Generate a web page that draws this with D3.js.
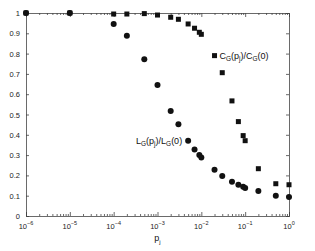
<!DOCTYPE html>
<html>
<head>
<meta charset="UTF-8">
<title>C_G and L_G vs p_j</title>
<style>
  body { margin: 0; background: #fff; }
  svg { display: block; font-family: "Liberation Sans", Arial, sans-serif; }
  .axis path, .axis line { stroke: #444; stroke-width: 0.8; }
  .lbl { font-size: 7.5px; fill: #222; }
  .note { font-size: 9px; fill: #111; }
</style>
</head>
<body>
<div id="chart"></div>
<script src="https://d3js.org/d3.v7.min.js"></script>
<script>
// data
const pj = [1e-6, 1e-5, 1e-4, 2e-4, 5e-4, 1e-3, 2e-3, 3e-3, 5e-3, 7e-3, 9e-3,
            1e-2, 2e-2, 3e-2, 5e-2, 7e-2, 9e-2, 1e-1, 2e-1, 5e-1, 1];
const cRatio = [1, 1, 0.995, 0.995, 0.997, 0.99, 0.979, 0.969, 0.946, 0.925, 0.905,
                0.895, 0.79, 0.706, 0.567, 0.465, 0.396, 0.371, 0.233, 0.159, 0.154];
const lRatio = [1, 1, 0.946, 0.888, 0.772, 0.645, 0.517, 0.452, 0.371, 0.328, 0.300,
                0.288, 0.228, 0.197, 0.169, 0.154, 0.144, 0.138, 0.123, 0.100, 0.094];
const xExps = [-6, -5, -4, -3, -2, -1, 0];
const yTicks = [0, 0.1, 0.2, 0.3, 0.4, 0.5, 0.6, 0.7, 0.8, 0.9, 1];

const width = 315, height = 251,
  margin = { top: 13, right: 26, bottom: 35, left: 26 },
  w = width - margin.left - margin.right,
  h = height - margin.top - margin.bottom;

const svg = d3.select("#chart").append("svg")
  .attr("width", width).attr("height", height);
const g = svg.append("g")
  .attr("transform", `translate(${margin.left},${margin.top})`);

const x = d3.scaleLog().domain([1e-6, 1]).range([0, w]);
const y = d3.scaleLinear().domain([0, 1]).range([h, 0]);

const majors = xExps.map(e => Math.pow(10, e));
const minors = [];
xExps.slice(0, -1).forEach(e => {
  for (let k = 2; k <= 9; k++) minors.push(k * Math.pow(10, e));
});

// box + ticks (inside)
g.append("g").attr("class", "axis").attr("transform", `translate(0,${h})`)
  .call(d3.axisBottom(x).tickValues(majors).tickSize(-4).tickFormat(""));
g.append("g").attr("class", "axis").attr("transform", `translate(0,${h})`)
  .call(d3.axisBottom(x).tickValues(minors).tickSize(-2).tickFormat(""))
  .select(".domain").remove();
g.append("g").attr("class", "axis")
  .call(d3.axisTop(x).tickValues(majors).tickSize(-4).tickFormat(""));
g.append("g").attr("class", "axis")
  .call(d3.axisTop(x).tickValues(minors).tickSize(-2).tickFormat(""))
  .select(".domain").remove();
g.append("g").attr("class", "axis")
  .call(d3.axisLeft(y).tickValues(yTicks).tickSize(-3).tickFormat(""));
g.append("g").attr("class", "axis").attr("transform", `translate(${w},0)`)
  .call(d3.axisRight(y).tickValues(yTicks).tickSize(-3).tickFormat(""));

// y tick labels
g.selectAll(".ylab").data(yTicks).enter().append("text")
  .attr("class", "lbl")
  .attr("x", -6)
  .attr("y", d => y(d) + 3)
  .attr("text-anchor", "end")
  .text(d => d === 1 ? "1" : d === 0 ? "0" : d3.format(".1f")(d));

// x tick labels 10^e
const xl = g.selectAll(".xlab").data(xExps).enter().append("text")
  .attr("class", "lbl")
  .attr("x", d => x(Math.pow(10, d)))
  .attr("y", h + 13)
  .attr("text-anchor", "middle");
xl.append("tspan").text("10");
xl.append("tspan").attr("dy", -4).style("font-size", "5.5px").text(d => d === 0 ? "0" : "\u2212" + Math.abs(d));

// x axis title
const xt = g.append("text").attr("class", "note")
  .attr("x", x(1e-3)).attr("y", h + 25).attr("text-anchor", "middle");
xt.append("tspan").text("p");
xt.append("tspan").attr("dy", 3).style("font-size", "6px").text("j");

// markers
const sq = 5;
g.selectAll(".sq").data(pj).enter().append("rect")
  .attr("x", (d) => x(d) - sq / 2)
  .attr("y", (d, i) => y(cRatio[i]) - sq / 2)
  .attr("width", sq).attr("height", sq)
  .attr("fill", "#111");
g.selectAll(".dot").data(pj).enter().append("circle")
  .attr("cx", d => x(d))
  .attr("cy", (d, i) => y(lRatio[i]))
  .attr("r", 3)
  .attr("fill", "#111");

// curve annotations
function ratioLabel(sel, letter) {
  sel.append("tspan").text(letter);
  sel.append("tspan").attr("dy", 2.5).style("font-size", "6.5px").text("G");
  sel.append("tspan").attr("dy", -2.5).text("(p");
  sel.append("tspan").attr("dy", 2.5).style("font-size", "6.5px").text("j");
  sel.append("tspan").attr("dy", -2.5).text(")/" + letter);
  sel.append("tspan").attr("dy", 2.5).style("font-size", "6.5px").text("G");
  sel.append("tspan").attr("dy", -2.5).text("(0)");
}
g.append("text").attr("class", "note")
  .attr("x", x(2e-2) + 5).attr("y", y(0.79) + 3)
  .call(ratioLabel, "C");
g.append("text").attr("class", "note")
  .attr("x", x(5e-3) - 6).attr("y", y(0.371) + 3)
  .attr("text-anchor", "end")
  .call(ratioLabel, "L");
</script>
</body>
</html>
